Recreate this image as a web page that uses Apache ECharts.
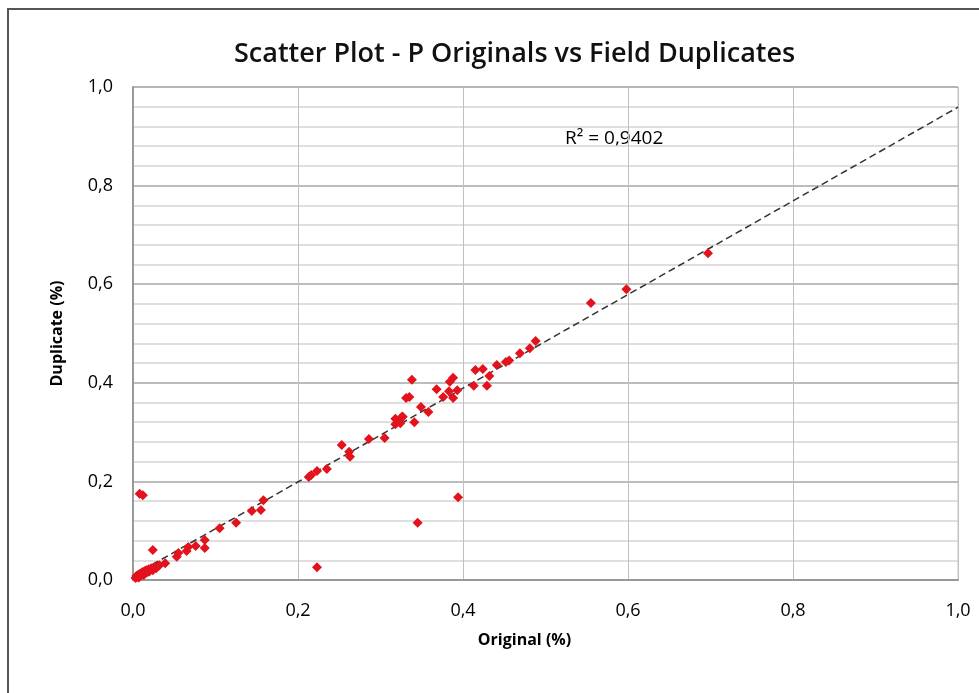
<!DOCTYPE html>
<html>
<head>
<meta charset="utf-8">
<script src="https://cdn.jsdelivr.net/npm/echarts@6/dist/echarts.min.js"></script>
<style>html,body{margin:0;padding:0;background:#fff;}#c{width:979px;height:693px;}</style>
</head>
<body>
<div id="c"></div>
<script>
// Data
const originalX = [
  0.003,0.004,0.005,0.006,0.007,0.008,0.009,0.010,0.011,0.012,0.013,0.014,0.015,0.016,0.018,0.019,0.020,0.022,0.024,0.026,0.028,0.030,0.032,
  0.008,0.012,0.024,0.039,0.053,0.055,0.065,0.067,0.076,0.087,0.087,0.105,0.125,
  0.144,0.155,0.158,0.213,0.216,0.223,0.235,0.223,0.253,0.262,0.263,0.286,0.305,
  0.318,0.318,0.324,0.327,0.326,0.341,0.331,0.335,0.338,0.345,0.349,0.358,0.368,0.376,0.383,0.384,0.388,0.388,0.393,0.394,
  0.413,0.415,0.424,0.429,0.432,0.441,0.452,0.456,0.469,0.481,0.488,0.555,0.598,0.697
];
const duplicateY = [
  0.004,0.008,0.006,0.010,0.005,0.012,0.009,0.014,0.011,0.016,0.010,0.018,0.014,0.020,0.016,0.022,0.018,0.024,0.020,0.026,0.024,0.028,0.030,
  0.175,0.172,0.061,0.034,0.047,0.055,0.059,0.067,0.069,0.081,0.065,0.105,0.116,
  0.140,0.142,0.162,0.209,0.213,0.221,0.225,0.026,0.274,0.260,0.250,0.286,0.288,
  0.327,0.316,0.318,0.331,0.331,0.320,0.369,0.371,0.406,0.116,0.351,0.341,0.387,0.371,0.383,0.402,0.410,0.369,0.385,0.168,
  0.394,0.426,0.428,0.394,0.414,0.436,0.442,0.445,0.460,0.470,0.485,0.562,0.590,0.663
];
const trendSlope = 0.950;
const trendIntercept = 0.009;
const trendRange = [0, 1];
const r2Label = 'R² = 0,9402';
const titleText = 'Scatter Plot - P Originals vs Field Duplicates';

const points = originalX.map((x, i) => [x, duplicateY[i]]);
const trendPts = trendRange.map(x => [x, trendSlope * x + trendIntercept]);
const fmt = v => v.toFixed(1).replace('.', ',');

const chart = echarts.init(document.getElementById('c'));
chart.setOption({
  backgroundColor: '#fff',
  animation: false,
  title: {
    text: titleText, left: 229, top: 36,
    textStyle: { fontFamily: 'Open Sans', fontSize: 27, fontWeight: 600, color: '#111' }
  },
  graphic: [
    { type: 'rect', shape: { x: 8, y: 9, width: 990, height: 700 }, style: { fill: 'none', stroke: '#555', lineWidth: 2 }, silent: true, z: 100 },
    { type: 'text', left: 565, top: 129, style: { text: r2Label, fontFamily: 'Open Sans', fontSize: 19, fill: '#000' } }
  ],
  grid: { left: 133, right: 21, top: 87, bottom: 113, show: true, borderColor: '#c8c8c8', borderWidth: 1 },
  xAxis: {
    type: 'value', min: 0, max: 1, interval: 0.2,
    name: 'Original (%)', nameLocation: 'middle', nameGap: 52,
    nameTextStyle: { fontFamily: 'Open Sans', fontSize: 16, fontWeight: 'bold', color: '#000', padding: [0, 42, 0, 0] },
    axisLine: { show: true, lineStyle: { color: '#999', width: 2 } },
    axisTick: { show: false },
    axisLabel: { formatter: fmt, margin: 22, fontFamily: 'Open Sans', fontSize: 18, color: '#000' },
    splitLine: { show: true, lineStyle: { color: '#c0c0c0', width: 1 } }
  },
  yAxis: {
    type: 'value', min: 0, max: 1, interval: 0.04,
    name: 'Duplicate (%)', nameLocation: 'middle', nameGap: 68,
    nameTextStyle: { fontFamily: 'Open Sans', fontSize: 16, fontWeight: 'bold', color: '#000' },
    axisLine: { show: true, lineStyle: { color: '#999', width: 2 } },
    axisTick: { show: false },
    axisLabel: {
      margin: 20, fontFamily: 'Open Sans', fontSize: 18, color: '#000',
      formatter: v => (Math.round(v * 100) % 20 === 0 ? fmt(v) : '')
    },
    splitLine: { show: true, lineStyle: { color: ['#a6a6a6', '#d4d4d4', '#d4d4d4', '#d4d4d4', '#d4d4d4'], width: 1.5 } }
  },
  series: [
    {
      type: 'line', data: trendPts, showSymbol: false, symbol: 'none',
      lineStyle: { color: '#333', width: 1.5, type: [7, 4] }, z: 2, silent: true
    },
    {
      type: 'scatter', data: points, symbol: 'diamond', symbolSize: 10,
      itemStyle: { color: '#e3121c', opacity: 1 }, z: 3
    }
  ]
});
</script>
</body>
</html>
